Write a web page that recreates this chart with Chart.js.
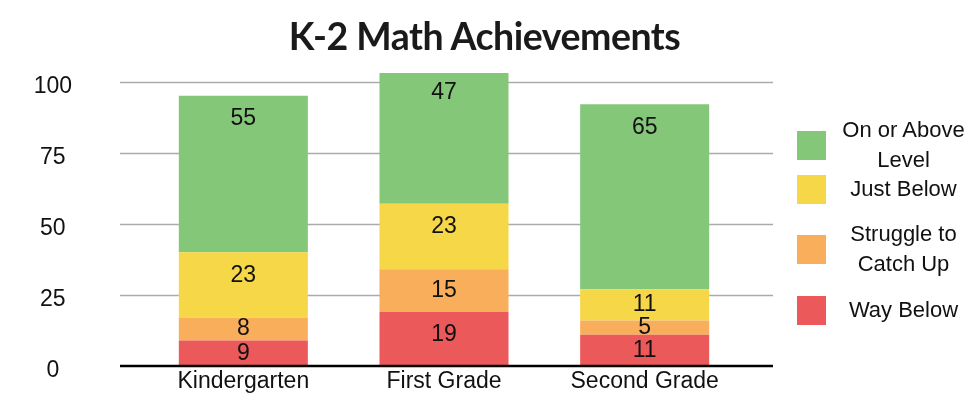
<!DOCTYPE html>
<html>
<head>
<meta charset="utf-8">
<script src="https://cdn.jsdelivr.net/npm/chart.js@4.4.1/dist/chart.umd.min.js"></script>
<style>
  html, body { margin: 0; padding: 0; background: #fff; }
  #wrap { position: relative; width: 969px; height: 402px; }
  #chartTitle {
    position: absolute; left: 0; top: 14px; width: 969px; text-align: center;
    font-family: Lato, "Open Sans", sans-serif; font-weight: 700; font-size: 37.5px;
    letter-spacing: -0.5px; color: #1a1a1a; line-height: 44px;
  }
  #legend {
    position: absolute; left: 797px; top: 115px; width: 172px;
    font-family: "Liberation Sans", Arial, sans-serif;
    font-size: 22px; color: #111;
  }
  .item { display: flex; align-items: center; }
  .box { width: 29px; height: 29px; flex: none; }
  .txt { flex: 1; text-align: center; line-height: 30px; padding-left: 12px; }
</style>
</head>
<body>
<div id="wrap">
  <canvas id="chartCanvas" width="969" height="402"></canvas>
  <div id="chartTitle">K-2 Math Achievements</div>
  <div id="legend"></div>
</div>
<script>
// --- data ---
const grades = ["Kindergarten", "First Grade", "Second Grade"];
const wayBelow = [9, 19, 11];
const struggle = [8, 15, 5];
const justBelow = [23, 23, 11];
const onOrAbove = [55, 47, 65];
const yTicks = [0, 25, 50, 75, 100];

const sans = '"Liberation Sans", Arial, sans-serif';

// gridlines run a little past the bars on both sides
const gridPlugin = {
  id: "wideGrid",
  beforeDatasetsDraw(chart) {
    const { ctx, chartArea, scales } = chart;
    ctx.save();
    ctx.strokeStyle = "#ababab";
    ctx.lineWidth = 1.5;
    yTicks.filter(v => v !== 0).forEach(v => {
      const y = Math.round(scales.y.getPixelForValue(v)) + 0.5;
      ctx.beginPath();
      ctx.moveTo(chartArea.left - 23, y);
      ctx.lineTo(chartArea.right + 28, y);
      ctx.stroke();
    });
    ctx.restore();
  },
  afterDatasetsDraw(chart) {
    const { ctx, chartArea, scales } = chart;
    const y = scales.y.getPixelForValue(0);
    ctx.save();
    ctx.strokeStyle = "#000";
    ctx.lineWidth = 2.5;
    ctx.beginPath();
    ctx.moveTo(chartArea.left - 23, y);
    ctx.lineTo(chartArea.right + 28, y);
    ctx.stroke();
    ctx.restore();
  }
};

// value labels near the top of each segment
const labelPlugin = {
  id: "segLabels",
  afterDatasetsDraw(chart) {
    const { ctx } = chart;
    ctx.save();
    ctx.font = "23px " + sans;
    ctx.fillStyle = "#111";
    ctx.textAlign = "center";
    ctx.textBaseline = "middle";
    chart.data.datasets.forEach((ds, i) => {
      chart.getDatasetMeta(i).data.forEach((el, j) => {
        const top = Math.min(el.y, el.base);
        const bot = Math.max(el.y, el.base);
        const y = top + Math.min((bot - top) / 2, 23);
        ctx.fillText(String(ds.data[j]), el.x, y);
      });
    });
    ctx.restore();
  }
};

const canvas = document.getElementById("chartCanvas");
const chart = new Chart(canvas, {
  type: "bar",
  data: {
    labels: grades,
    datasets: [
      { label: "Way Below", data: wayBelow, backgroundColor: "#ec595b" },
      { label: "Struggle to Catch Up", data: struggle, backgroundColor: "#f8ae5b" },
      { label: "Just Below", data: justBelow, backgroundColor: "#f6d747" },
      { label: "On or Above Level", data: onOrAbove, backgroundColor: "#85c779" }
    ]
  },
  options: {
    responsive: false,
    animation: false,
    layout: { padding: { top: 73, right: 224, left: 0, bottom: 0 } },
    datasets: { bar: { categoryPercentage: 1, barPercentage: 0.643 } },
    plugins: {
      legend: { display: false },
      title: { display: false },
      tooltip: { enabled: false }
    },
    scales: {
      x: {
        stacked: true,
        grid: { display: false, drawTicks: false },
        border: { display: false },
        ticks: { color: "#111", font: { family: sans, size: 23 }, padding: 2 },
        afterFit(scale) { scale.height = 36; }
      },
      y: {
        stacked: true,
        min: 0,
        max: 103,
        grid: { display: false, drawTicks: false },
        border: { display: false },
        afterBuildTicks(scale) { scale.ticks = yTicks.map(v => ({ value: v })); },
        ticks: { color: "#111", font: { family: sans, size: 23 }, padding: 71, crossAlign: "center", labelOffset: 5 },
        afterFit(scale) {
          scale.width = 143;
          scale.paddingTop = 0;
          scale.paddingBottom = 0;
        }
      }
    }
  },
  plugins: [gridPlugin, labelPlugin]
});

// legend, top to bottom like the picture
const legendGaps = [0, -1, 15, 16];
const legend = document.getElementById("legend");
chart.data.datasets.slice().reverse().forEach((ds, k) => {
  const item = document.createElement("div");
  item.className = "item";
  item.style.marginTop = legendGaps[k] + "px";
  const box = document.createElement("div");
  box.className = "box";
  box.style.background = ds.backgroundColor;
  const txt = document.createElement("div");
  txt.className = "txt";
  txt.textContent = ds.label;
  item.appendChild(box);
  item.appendChild(txt);
  legend.appendChild(item);
});
</script>
</body>
</html>
